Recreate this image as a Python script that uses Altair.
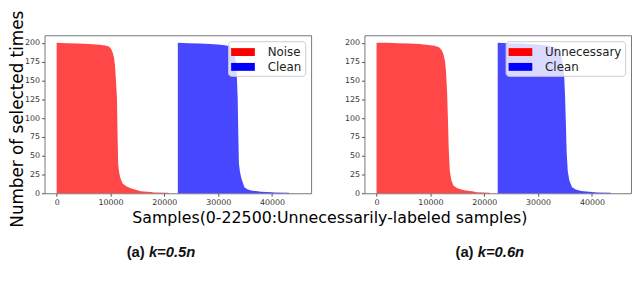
import altair as alt
import pandas as pd

# ---- data ----
# panel (a) k=0.5n
l_red_x = [0, 2000, 4000, 6000, 8000, 9000, 9700, 10100, 10400, 10650, 10830, 11000, 11200, 11300,
           11430, 11600, 11800, 12240, 13000, 13760, 15600, 17500, 18000, 20700, 20800]
l_red_y = [200, 199.5, 199, 198.5, 197.5, 196.5, 195, 192, 187, 180, 170, 152, 126, 82,
           39, 28, 21, 13, 9, 6.5, 2.6, 1.8, 1, 0.6, 0]
l_blue_x = [22500, 24500, 26500, 28500, 30500, 31500, 32200, 32600, 32900, 33150, 33330, 33480, 33620,
            33720, 33850, 34050, 34300, 34860, 35500, 36300, 38000, 40000, 40500, 43100, 43200]
l_blue_y = [200, 199.5, 199, 198.5, 197.5, 196.5, 195, 192, 187, 180, 170, 152, 126,
            82, 39, 28, 20, 8, 5, 3.5, 2, 1.5, 1, 0.6, 0]

# panel (a) k=0.6n
r_red_x = [0, 2000, 4000, 6000, 8000, 9600, 10800, 11600, 12100, 12400, 12700, 12900, 13100, 13250,
           13400, 13600, 13900, 14300, 15000, 16250, 18000, 18500, 21000, 21100]
r_red_y = [200, 200, 199.5, 199, 198.5, 197, 196, 194, 190, 185, 176, 162, 135, 100,
           60, 30, 17, 10, 6.5, 4, 2.2, 1.2, 0.6, 0]
r_blue_x = [22500, 24500, 26500, 28500, 30500, 32000, 33000, 33600, 34100, 34400, 34650, 34850, 35000,
            35150, 35300, 35500, 35800, 36300, 37000, 38000, 40000, 41000, 43500, 43600]
r_blue_y = [200, 199.5, 199, 198.5, 197.5, 196, 194, 191, 186, 180, 170, 155, 130,
            95, 55, 30, 17, 8, 5, 3, 1.8, 1, 0.6, 0]

left_labels = ["Noise", "Clean"]
right_labels = ["Unnecessary", "Clean"]
series_colors = ["#ff0000", "#0000ff"]
x_ticks = [0, 10000, 20000, 30000, 40000]
y_ticks = [0, 25, 50, 75, 100, 125, 150, 175, 200]

y_title = "Number of selected times"
x_title = "Samples(0-22500:Unnecessarily-labeled samples)"
sub_prefix = "(a)"
left_sub = "k=0.5n"
right_sub = "k=0.6n"

W, H = 270, 160


def text_layer(txt, x, y, **kw):
    return alt.Chart(pd.DataFrame({"t": [txt]})).mark_text(**kw).encode(
        x=alt.value(x), y=alt.value(y), text="t:N")


def panel(rx, ry, bx, by, labels, sub, sub_c, extra=()):
    df = pd.concat([
        pd.DataFrame({"x": rx, "y": ry, "s": labels[0]}),
        pd.DataFrame({"x": bx, "y": by, "s": labels[1]}),
    ])
    area = alt.Chart(df).mark_area(opacity=0.72, interpolate="linear").encode(
        x=alt.X("x:Q", scale=alt.Scale(domain=[-2250, 47250], nice=False, zero=False),
                axis=alt.Axis(values=x_ticks, format="d", title=None)),
        y=alt.Y("y:Q", stack=None, scale=alt.Scale(domain=[0, 210], nice=False),
                axis=alt.Axis(values=y_ticks, format="d", title=None)),
        color=alt.Color("s:N", scale=alt.Scale(domain=labels, range=series_colors),
                        legend=alt.Legend(title=None, orient="top-right", offset=6, padding=3,
                                          fillColor="rgba(255,255,255,0.8)", strokeColor="#cccccc",
                                          cornerRadius=3, symbolType="M-1.5,-0.5H1.5V0.5H-1.5Z",
                                          symbolSize=256, symbolStrokeWidth=0, symbolOpacity=1,
                                          symbolOffset=4, labelOffset=17, rowPadding=1,
                                          labelFontSize=12, labelFont="DejaVu Sans",
                                          labelColor="#222222")),
        detail="s:N",
    )
    left_x = sub_c - 34.8
    layers = [area,
              text_layer(sub_prefix, left_x, 220, font="Liberation Sans", fontSize=15,
                         fontWeight="bold", align="left", baseline="middle", color="#111"),
              text_layer(sub, left_x + 22.5, 220, font="Liberation Sans", fontSize=15,
                         fontWeight="bold", fontStyle="italic", align="left", baseline="middle",
                         color="#111")]
    layers += list(extra)
    return alt.layer(*layers).properties(width=W, height=H)


anchor = alt.Chart(pd.DataFrame({"t": [""]})).mark_point(
    size=1, opacity=0, filled=True, color="white").encode(x=alt.value(-35), y=alt.value(-25))

left = panel(l_red_x, l_red_y, l_blue_x, l_blue_y, left_labels, left_sub, 118, extra=[
    anchor,
    text_layer(y_title, -27, 85, font="DejaVu Sans", fontSize=17, angle=270, align="center",
               baseline="middle", color="#000"),
    text_layer(x_title, 289, 185, font="DejaVu Sans", fontSize=16, align="center",
               baseline="middle", color="#000"),
])
right = panel(r_red_x, r_red_y, r_blue_x, r_blue_y, right_labels, right_sub, 127)

chart = alt.hconcat(left, right, spacing=54, bounds="flush").resolve_scale(
    color="independent").properties(padding=0).configure_view(
    stroke="#777777", strokeWidth=1).configure_axis(
    grid=False, domain=False, labelFont="DejaVu Sans", labelFontSize=8, labelColor="#333333",
    tickColor="#555555", tickSize=3, labelPadding=2, labelFlush=False)

chart.save("out.html", embed_options={"renderer": "svg", "actions": False})
